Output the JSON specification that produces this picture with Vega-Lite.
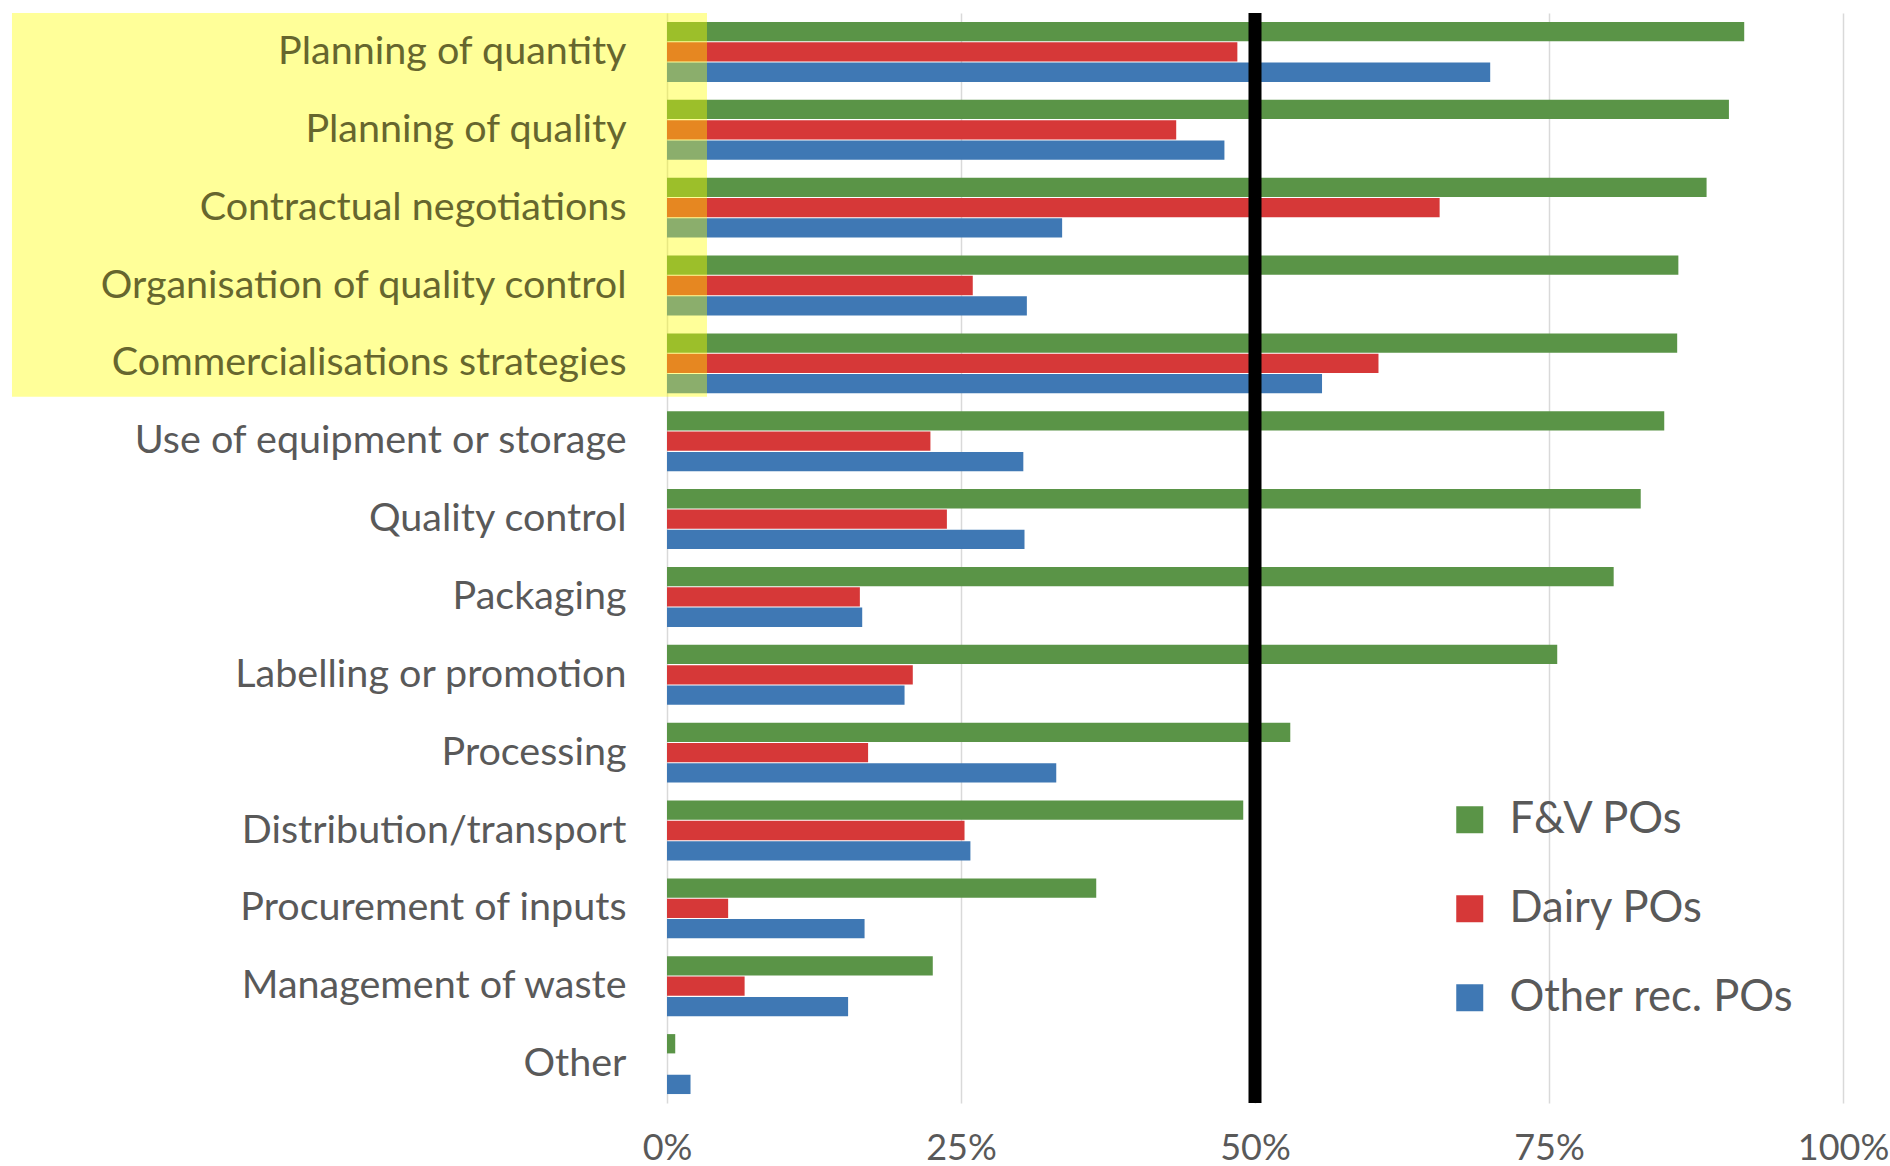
{
  "$schema": "https://vega.github.io/schema/vega-lite/v6.json",
  "width": 1176,
  "height": 1090,
  "autosize": "none",
  "padding": {"left": 667, "top": 13, "right": 47, "bottom": 63},
  "background": "white",
  "config": {
    "view": {"stroke": null},
    "font": "Lato"
  },
  "data": {
    "values": [
      {"activity": "Planning of quantity", "group": "F&V POs", "share": 0.916},
      {"activity": "Planning of quantity", "group": "Dairy POs", "share": 0.485},
      {"activity": "Planning of quantity", "group": "Other rec. POs", "share": 0.700},
      {"activity": "Planning of quality", "group": "F&V POs", "share": 0.903},
      {"activity": "Planning of quality", "group": "Dairy POs", "share": 0.433},
      {"activity": "Planning of quality", "group": "Other rec. POs", "share": 0.474},
      {"activity": "Contractual negotiations", "group": "F&V POs", "share": 0.884},
      {"activity": "Contractual negotiations", "group": "Dairy POs", "share": 0.657},
      {"activity": "Contractual negotiations", "group": "Other rec. POs", "share": 0.336},
      {"activity": "Organisation of quality control", "group": "F&V POs", "share": 0.860},
      {"activity": "Organisation of quality control", "group": "Dairy POs", "share": 0.260},
      {"activity": "Organisation of quality control", "group": "Other rec. POs", "share": 0.306},
      {"activity": "Commercialisations strategies", "group": "F&V POs", "share": 0.859},
      {"activity": "Commercialisations strategies", "group": "Dairy POs", "share": 0.605},
      {"activity": "Commercialisations strategies", "group": "Other rec. POs", "share": 0.557},
      {"activity": "Use of equipment or storage", "group": "F&V POs", "share": 0.848},
      {"activity": "Use of equipment or storage", "group": "Dairy POs", "share": 0.224},
      {"activity": "Use of equipment or storage", "group": "Other rec. POs", "share": 0.303},
      {"activity": "Quality control", "group": "F&V POs", "share": 0.828},
      {"activity": "Quality control", "group": "Dairy POs", "share": 0.238},
      {"activity": "Quality control", "group": "Other rec. POs", "share": 0.304},
      {"activity": "Packaging", "group": "F&V POs", "share": 0.805},
      {"activity": "Packaging", "group": "Dairy POs", "share": 0.164},
      {"activity": "Packaging", "group": "Other rec. POs", "share": 0.166},
      {"activity": "Labelling or promotion", "group": "F&V POs", "share": 0.757},
      {"activity": "Labelling or promotion", "group": "Dairy POs", "share": 0.209},
      {"activity": "Labelling or promotion", "group": "Other rec. POs", "share": 0.202},
      {"activity": "Processing", "group": "F&V POs", "share": 0.530},
      {"activity": "Processing", "group": "Dairy POs", "share": 0.171},
      {"activity": "Processing", "group": "Other rec. POs", "share": 0.331},
      {"activity": "Distribution/transport", "group": "F&V POs", "share": 0.490},
      {"activity": "Distribution/transport", "group": "Dairy POs", "share": 0.253},
      {"activity": "Distribution/transport", "group": "Other rec. POs", "share": 0.258},
      {"activity": "Procurement of inputs", "group": "F&V POs", "share": 0.365},
      {"activity": "Procurement of inputs", "group": "Dairy POs", "share": 0.052},
      {"activity": "Procurement of inputs", "group": "Other rec. POs", "share": 0.168},
      {"activity": "Management of waste", "group": "F&V POs", "share": 0.226},
      {"activity": "Management of waste", "group": "Dairy POs", "share": 0.066},
      {"activity": "Management of waste", "group": "Other rec. POs", "share": 0.154},
      {"activity": "Other", "group": "F&V POs", "share": 0.007},
      {"activity": "Other", "group": "Dairy POs", "share": 0.0},
      {"activity": "Other", "group": "Other rec. POs", "share": 0.020}
    ]
  },
  "layer": [
    {
      "mark": {"type": "bar"},
      "encoding": {
        "y": {
          "field": "activity",
          "type": "nominal",
          "sort": null,
          "scale": {"paddingInner": 0.23, "paddingOuter": 0.115},
          "axis": {
            "title": null,
            "domain": false,
            "ticks": false,
            "labelPadding": 41,
            "labelFontSize": 39.5,
            "labelLimit": 0,
            "labelFont": "Lato",
            "zindex": 1,
            "labelColor": {
              "condition": {
                "test": "indexof(['Planning of quantity','Planning of quality','Contractual negotiations','Organisation of quality control','Commercialisations strategies'], datum.value) >= 0",
                "value": "#66662e"
              },
              "value": "#595959"
            }
          }
        },
        "yOffset": {
          "field": "group",
          "type": "nominal",
          "sort": ["F&V POs", "Dairy POs", "Other rec. POs"],
          "scale": {"paddingInner": 0.05}
        },
        "x": {
          "field": "share",
          "type": "quantitative",
          "scale": {"domain": [0, 1], "nice": false},
          "axis": {
            "title": null,
            "format": "%",
            "values": [0, 0.25, 0.5, 0.75, 1],
            "grid": true,
            "gridColor": "#d9d9d9",
            "gridWidth": 1.5,
            "domain": false,
            "ticks": false,
            "labelFontSize": 36,
            "labelFont": "Lato",
            "labelColor": "#595959",
            "labelPadding": 28,
            "labelFlush": false,
            "labelOverlap": false
          }
        },
        "color": {
          "field": "group",
          "type": "nominal",
          "sort": ["F&V POs", "Dairy POs", "Other rec. POs"],
          "scale": {
            "domain": ["F&V POs", "Dairy POs", "Other rec. POs"],
            "range": ["#5a9447", "#d63838", "#3f78b4"]
          },
          "legend": {
            "title": null,
            "orient": "none",
            "legendX": 781,
            "legendY": 785,
            "symbolType": "square",
            "symbolSize": 729,
            "symbolStrokeWidth": 0,
            "symbolOpacity": 1,
            "labelFontSize": 43.5,
            "labelFont": "Lato",
            "labelColor": "#595959",
            "labelOffset": 18,
            "rowPadding": 44,
            "labelLimit": 0
          }
        }
      }
    },
    {
      "data": {"values": [{"mark": "50% threshold"}]},
      "mark": {"type": "rule", "color": "black", "strokeWidth": 13},
      "encoding": {
        "x": {"datum": 0.5, "type": "quantitative"}
      }
    },
    {
      "data": {"values": [{"mark": "highlight"}]},
      "mark": {"type": "rect", "fill": "#ffff00", "fillOpacity": 0.4, "strokeWidth": 0},
      "encoding": {
        "x": {"datum": -0.557, "type": "quantitative"},
        "x2": {"datum": 0.034},
        "y": {"datum": 14, "type": "quantitative", "scale": {"domain": [0, 14], "nice": false, "zero": false}, "axis": null},
        "y2": {"datum": 9.07}
      }
    }
  ],
  "resolve": {"scale": {"y": "independent"}}
}
